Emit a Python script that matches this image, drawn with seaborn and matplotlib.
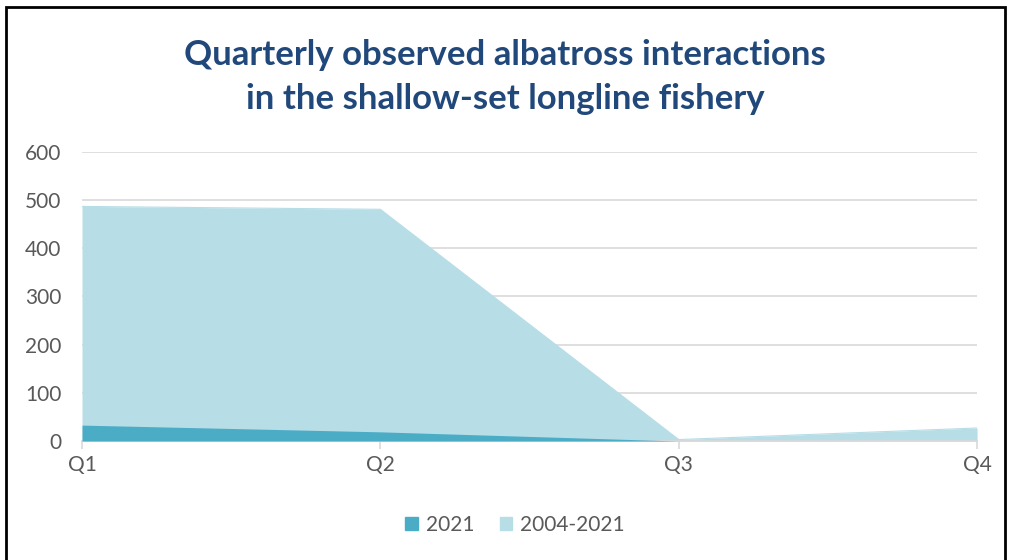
import matplotlib
matplotlib.use('Agg')
import matplotlib.pyplot as plt
from matplotlib.patches import Rectangle, Patch
import seaborn as sns
import pandas as pd

# data
quarters = ['Q1', 'Q2', 'Q3', 'Q4']
all_years = [487, 481, 3, 27]      # 2004-2021
year_2021 = [33, 19, 0, 0]

df = pd.DataFrame({'quarter': quarters, '2004-2021': all_years, '2021': year_2021})
df['x'] = range(len(quarters))

sns.set_theme(style='white')
plt.rcParams['font.family'] = ['Lato', 'DejaVu Sans']

light = '#b7dde7'
dark = '#4bacc6'
grey = '#595959'

fig = plt.figure(figsize=(10.1, 5.6), dpi=100)
ax = fig.add_axes([0.0812, 0.2125, 0.8862, 0.5161])

ax.fill_between(df['x'], 0, df['2004-2021'], color=light, lw=0, zorder=2)
ax.fill_between(df['x'], 0, df['2021'], color=dark, lw=0, zorder=3)
sns.lineplot(x=df['x'], y=df['2004-2021'], ax=ax, color=light, lw=0.8, zorder=2)

ax.set_xlim(0, 3)
ax.set_ylim(0, 600)
ax.set_yticks(range(0, 700, 100))
ax.set_xticks(df['x'])
ax.set_xticklabels(quarters)
ax.set_xlabel('')
ax.set_ylabel('')
ax.grid(axis='y', color='#d9d9d9', lw=1.2, zorder=0)
ax.set_axisbelow(True)
for s in ['top', 'right', 'left']:
    ax.spines[s].set_visible(False)
ax.spines['bottom'].set_color('#d9d9d9')
ax.spines['bottom'].set_linewidth(1.2)
ax.tick_params(axis='x', colors='#d9d9d9', labelcolor=grey, labelsize=15,
               length=6, width=1.2, direction='out', pad=4, bottom=True)
ax.tick_params(axis='y', colors=grey, labelsize=15, length=0, pad=15)
for lbl in ax.get_xticklabels():
    lbl.set_color(grey)

fig.text(0.5, 0.862, 'Quarterly observed albatross interactions\nin the shallow-set longline fishery',
         ha='center', va='center', fontsize=25, fontweight='bold', color='#21487a',
         linespacing=1.45)

handles = [Patch(color=dark, label='2021'), Patch(color=light, label='2004-2021')]
fig.legend(handles=handles, loc='center', bbox_to_anchor=(0.51, 0.063), ncol=2,
           frameon=False, fontsize=15, labelcolor=grey, handlelength=0.6,
           handleheight=0.6, handletextpad=0.4, columnspacing=1.2)

# outer frame
fig.patches.append(Rectangle((0.006, -0.05), 0.989, 1.037, transform=fig.transFigure,
                             fill=False, ec='black', lw=2, zorder=10))

fig.savefig('out.png', dpi=100)
